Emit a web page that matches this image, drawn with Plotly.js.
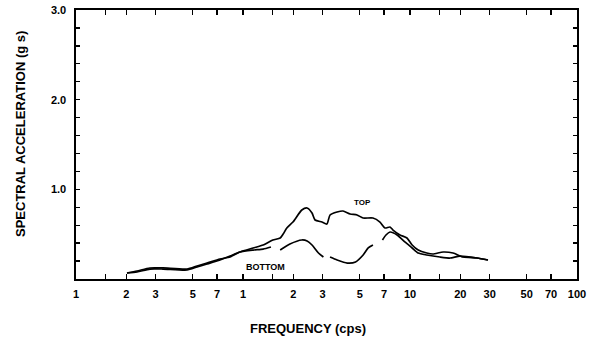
<!DOCTYPE html>
<html>
<head>
<meta charset="utf-8">
<script src="https://cdn.plot.ly/plotly-3.0.1.min.js"></script>
<style>html,body{margin:0;padding:0;background:#fff;}#chart{width:602px;height:340px;}</style>
</head>
<body>
<div id="chart"></div>
<script>
// Frequency (cps) and spectral acceleration (g) for the TOP response
var topFreq = [0.202,0.232,0.277,0.332,0.462,0.531,0.609,0.728,0.836,0.959,1.15,1.32,1.51,1.67,1.74,1.83,1.99,2.25,2.42,2.59,2.70,2.97,3.18,3.32,3.66,3.97,4.38,4.82,5.24,6.00,6.61,7.08,7.59,7.91,8.71,9.59,10.3,11.2,12.6,13.7,15.8,18.1,20.8,25.2,29.3];
var topAcc  = [0.067,0.089,0.123,0.123,0.111,0.145,0.178,0.223,0.245,0.301,0.346,0.379,0.435,0.457,0.502,0.569,0.635,0.769,0.792,0.736,0.658,0.635,0.613,0.714,0.747,0.758,0.725,0.714,0.680,0.680,0.635,0.569,0.580,0.546,0.491,0.457,0.379,0.323,0.290,0.279,0.301,0.290,0.245,0.234,0.212];

// BOTTOM response (broken line; null marks the gaps)
var botFreq = [0.202,0.232,0.277,0.332,0.462,0.531,0.609,0.728,0.836,0.959,1.15,1.32,1.47,1.57,1.67,1.91,2.25,2.42,2.59,2.83,3.03,3.15,3.32,3.66,4.21,4.72,5.24,5.62,6.00,6.3,6.84,7.18,7.59,8.37,9.31,10.3,11.2,12.6,15.1,17.4,19.9,25.2,29.3];
var botAcc  = [0.067,0.078,0.111,0.111,0.100,0.134,0.167,0.212,0.256,0.301,0.323,0.334,0.357,null,0.323,0.390,0.435,0.424,0.379,0.290,0.245,null,0.245,0.212,0.178,0.190,0.268,0.346,0.379,null,0.435,0.491,0.524,0.491,0.413,0.346,0.290,0.268,0.245,0.234,0.256,0.234,0.212];

var xTickVals = [0.1,0.15,0.2,0.3,0.5,0.7,1,1.5,2,3,5,7,10,15,20,30,50,70,100];
var xTickText = ['1','','2','3','5','7','1','','2','3','5','7','10','','20','30','50','70','100'];
var yTickVals = [0,0.2,0.4,0.6,0.8,1.0,1.2,1.4,1.6,1.8,2.0,2.2,2.4,2.6,2.8,3.0];
var yTickText = ['','','','','','1.0','','','','','2.0','','','','','3.0'];

var fam = 'Liberation Sans, Arial, sans-serif';
var fnt = {family:fam, size:11, color:'#000', weight:'bold'};

var traces = [
  {x: topFreq, y: topAcc, mode:'lines', line:{color:'#000', width:1.7, shape:'spline', smoothing:0.6}, hoverinfo:'skip'},
  {x: botFreq, y: botAcc, mode:'lines', connectgaps:false, line:{color:'#000', width:1.7, shape:'spline', smoothing:0.6}, hoverinfo:'skip'}
];

var layout = {
  width:602, height:340,
  margin:{l:76, r:25, t:10, b:61},
  paper_bgcolor:'#fff', plot_bgcolor:'#fff',
  showlegend:false,
  xaxis:{type:'log', range:[-1,2], tickmode:'array', tickvals:xTickVals, ticktext:xTickText,
    ticks:'inside', ticklen:5, tickwidth:1.3, tickcolor:'#000',
    showline:true, linecolor:'#000', linewidth:1.6, mirror:'ticks',
    showgrid:false, zeroline:false, tickfont:fnt, ticklabelstandoff:4},
  yaxis:{range:[0,3.0], tickmode:'array', tickvals:yTickVals, ticktext:yTickText,
    ticks:'inside', ticklen:4, tickwidth:1.3, tickcolor:'#000',
    showline:true, linecolor:'#000', linewidth:1.6, mirror:'ticks',
    showgrid:false, zeroline:false, tickfont:fnt, ticklabelstandoff:6},
  annotations:[
    {xref:'x', yref:'y', x:Math.log10(5.16), y:0.85, text:'TOP', showarrow:false,
     font:{family:fam, size:8, color:'#000', weight:'bold'}},
    {xref:'x', yref:'y', x:Math.log10(1.37), y:0.134, text:'BOTTOM', showarrow:false,
     font:{family:fam, size:9, color:'#000', weight:'bold'}},
    {xref:'paper', yref:'paper', x:(308-76)/501, y:-(328-279)/269, yanchor:'middle', xanchor:'center',
     text:'FREQUENCY (cps)', showarrow:false,
     font:{family:fam, size:13, color:'#000', weight:'bold'}},
    {xref:'paper', yref:'paper', x:-(76-20)/501, y:(279-134)/269, xanchor:'center', yanchor:'middle',
     text:'SPECTRAL ACCELERATION (g s)', textangle:-90, showarrow:false,
     font:{family:fam, size:13, color:'#000', weight:'bold'}}
  ]
};

Plotly.newPlot('chart', traces, layout, {staticPlot:true, displayModeBar:false});
</script>
</body>
</html>
